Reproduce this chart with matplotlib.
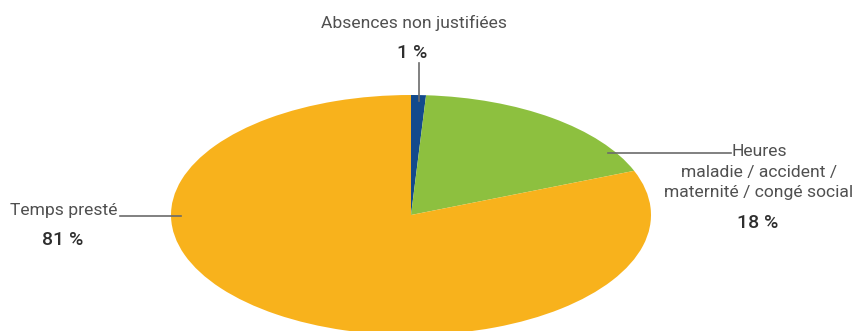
import matplotlib
matplotlib.use("Agg")
import matplotlib.pyplot as plt
import numpy as np

categories = ["Absences non justifiées", "Heures\nmaladie / accident /\nmaternité / congé social", "Temps presté"]
values = [1, 18, 81]
pct_labels = ["1 %", "18 %", "81 %"]
colors = ["#134A8C", "#8DC03F", "#F8B21C"]

W, H = 856, 331
fig = plt.figure(figsize=(W / 100, H / 100), dpi=100)
ax = fig.add_axes([0, 0, 1, 1])

cx, cy, rx, ry = 411, 215, 240, 120
ax.pie(values, colors=colors, startangle=90, counterclock=False,
       wedgeprops=dict(linewidth=0))
ax.set_aspect("auto")
ax.set_xlim(-cx / rx, (W - cx) / rx)
ax.set_ylim((cy - H) / ry, cy / ry)
ax.axis("off")

def px(x, y):
    return ((x - cx) / rx, (cy - y) / ry)

font = ["Roboto", "DejaVu Sans"]
fs = 12.6
pfs = 14
lab_col = "#505050"
pct_col = "#2e2e2e"
lc = "#6b6b6b"

# Absences non justifiées
ax.text(*px(414, 23), categories[0], ha="center", va="center", fontsize=fs,
        color=lab_col, family=font)
ax.text(*px(412, 53), pct_labels[0], ha="center", va="center", fontsize=pfs,
        color=pct_col, family=font, fontweight="medium")
ang = np.deg2rad(90 - values[0] / 100 * 360 / 2)
x0 = np.cos(ang)
ax.plot([x0, x0], [0.95 * np.sin(ang), px(0, 63)[1]], color=lc, lw=1.2)

# Heures maladie
ax.text(*px(759, 172), categories[1], ha="center", va="center", fontsize=fs,
        color=lab_col, family=font, linespacing=1.45)
ax.text(*px(758, 223), pct_labels[1], ha="center", va="center", fontsize=pfs,
        color=pct_col, family=font, fontweight="medium")
a, b = px(608, 153), px(731, 153)
ax.plot([a[0], b[0]], [a[1], b[1]], color=lc, lw=1.2)

# Temps presté
ax.text(*px(118, 211), categories[2], ha="right", va="center", fontsize=fs,
        color=lab_col, family=font)
ax.text(*px(63, 240), pct_labels[2], ha="center", va="center", fontsize=pfs,
        color=pct_col, family=font, fontweight="medium")
a, b = px(181, 216), px(120, 216)
ax.plot([a[0], b[0]], [a[1], b[1]], color=lc, lw=1.2)

fig.savefig("out.png", dpi=100)
